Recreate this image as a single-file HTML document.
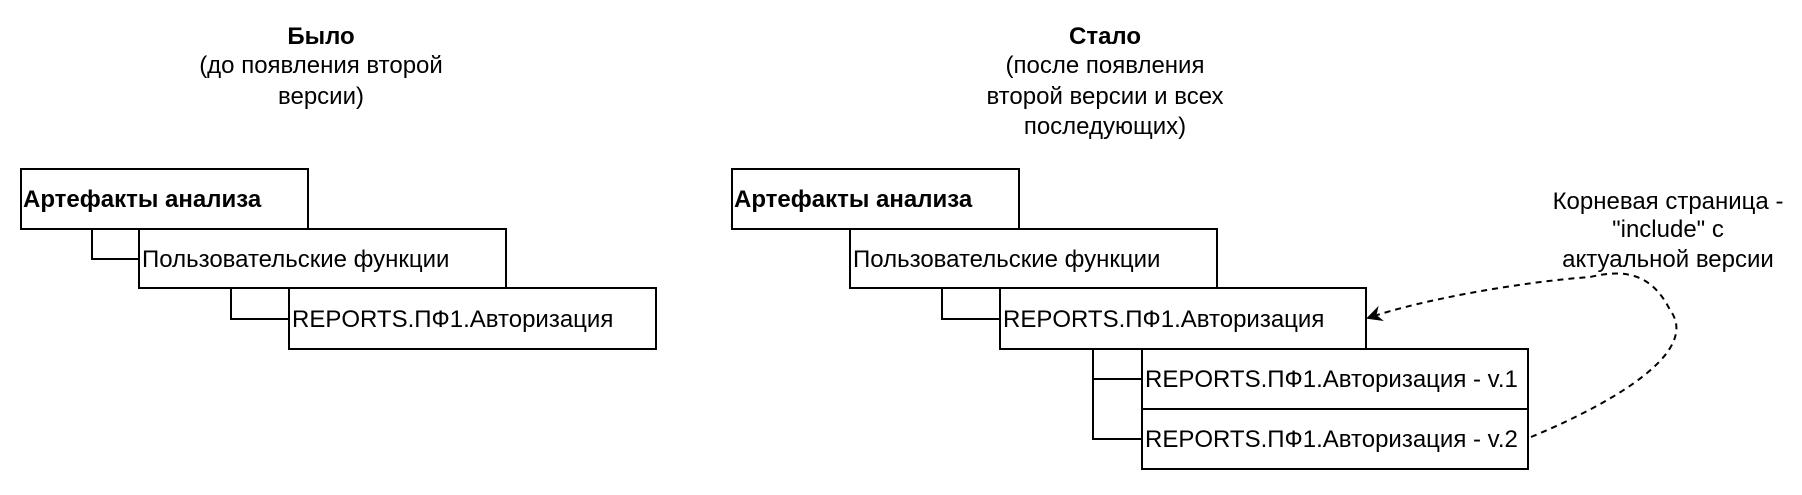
<!DOCTYPE html>
<html><head><meta charset="utf-8"><style>
body{margin:0;background:#fff;}
svg text{font-family:"Liberation Sans",Arial,sans-serif;font-size:24px;fill:#000;}
</style></head><body>
<svg width="1802" height="490" viewBox="0 0 1802 490" xmlns="http://www.w3.org/2000/svg">
<defs><marker id="ar" markerWidth="16" markerHeight="16" refX="14" refY="8" orient="auto" markerUnits="userSpaceOnUse">
<path d="M0,0 L16,8 L0,16 L5,8 Z" fill="#000"/></marker></defs>
<g fill="none" stroke="#000" stroke-width="2">
<rect x="21" y="169" width="287" height="60" fill="#fff"/>
<rect x="139" y="229" width="367" height="59" fill="#fff"/>
<rect x="289" y="288" width="367" height="61" fill="#fff"/>
<polyline points="92,229 92,259 139,259"/>
<polyline points="231,288 231,319 289,319"/>
<rect x="732" y="169" width="287" height="60" fill="#fff"/>
<rect x="850" y="229" width="367" height="59" fill="#fff"/>
<rect x="1000" y="288" width="366" height="61" fill="#fff"/>
<rect x="1142" y="349" width="386" height="60" fill="#fff"/>
<rect x="1142" y="409" width="386" height="60" fill="#fff"/>
<polyline points="942,288 942,319 1000,319"/>
<polyline points="1093,349 1093,439 1142,439"/>
<line x1="1093" y1="379" x2="1142" y2="379"/>
<path d="M1531,437 C1620,400 1700,350 1670,310 C1650,270 1620,270 1590,277 C1520,282 1420,300 1368,318" stroke-dasharray="6,5" marker-end="url(#ar)"/>
</g>
<text x="321" y="44" text-anchor="middle" font-weight="bold">Было</text>
<text x="321" y="73" text-anchor="middle">(до появления второй</text>
<text x="321" y="104" text-anchor="middle">версии)</text>
<text x="1105" y="44" text-anchor="middle" font-weight="bold">Стало</text>
<text x="1105" y="73" text-anchor="middle">(после появления</text>
<text x="1105" y="104" text-anchor="middle">второй версии и всех</text>
<text x="1105" y="134" text-anchor="middle">последующих)</text>
<text x="1668" y="209" text-anchor="middle">Корневая страница -</text>
<text x="1668" y="237" text-anchor="middle">"include" с</text>
<text x="1668" y="267" text-anchor="middle">актуальной версии</text>
<text x="23" y="207" font-weight="bold">Артефакты анализа</text>
<text x="142" y="267">Пользовательские функции</text>
<text x="292" y="327">REPORTS.ПФ1.Авторизация</text>
<text x="734" y="207" font-weight="bold">Артефакты анализа</text>
<text x="853" y="267">Пользовательские функции</text>
<text x="1003" y="327">REPORTS.ПФ1.Авторизация</text>
<text x="1145" y="387">REPORTS.ПФ1.Авторизация - v.1</text>
<text x="1145" y="447">REPORTS.ПФ1.Авторизация - v.2</text>
</svg>
</body></html>
